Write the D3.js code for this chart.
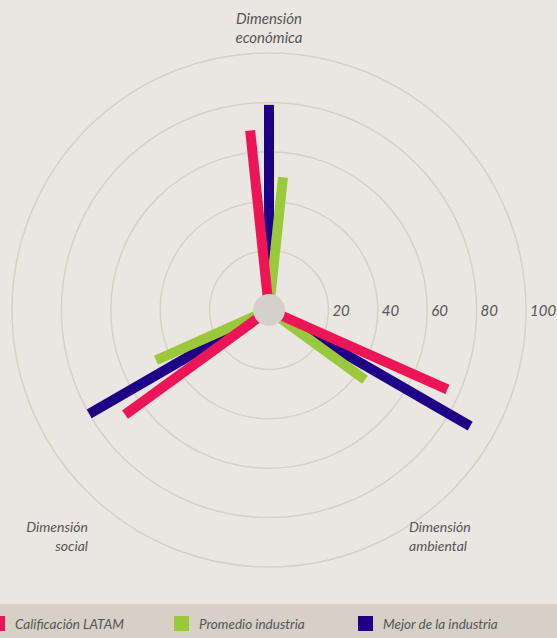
<!DOCTYPE html>
<html>
<head>
<meta charset="utf-8">
<script src="https://cdn.jsdelivr.net/npm/d3@7"></script>
<style>
  html, body { margin: 0; padding: 0; background: #eae7e2; }
  svg { display: block; }
  text { font-family: Lato, "Open Sans", sans-serif; font-style: italic; fill: #555; }
</style>
</head>
<body>
<div id="plot"></div>
<script>
// chart data
const categories = ["Dimensión económica", "Dimensión ambiental", "Dimensión social"];
const categoryLines = [["Dimensión", "económica"], ["Dimensión", "ambiental"], ["Dimensión", "social"]];
const seriesNames = ["Calificación LATAM", "Promedio industria", "Mejor de la industria"];
const latam = [69, 75, 68];
const promedio = [50, 44, 46];
const mejor = [79, 90, 80];
const tickValues = [20, 40, 60, 80, 100];

const width = 557, height = 638;
const cx = 269, cy = 310;
const colors = ["#ee1556", "#9aca3c", "#1e0087"];

const svg = d3.select("#plot")
  .append("svg")
  .attr("width", width)
  .attr("height", height);

svg.append("rect")
  .attr("width", width)
  .attr("height", height)
  .attr("fill", "#eae7e2");

const r = d3.scaleLinear().domain([0, 100]).range([10, 257]);

// angle of each dimension (clockwise from top), offset per series
// pink leans left, best-of-industry sits on the axis, average leans right
const angle = d3.scaleBand().domain(categories).range([0, 360]);
const offset = d3.scalePoint()
  .domain([seriesNames[0], seriesNames[2], seriesNames[1]])
  .range([-6, 6]);

const g = svg.append("g").attr("transform", `translate(${cx},${cy})`);

// grid circles
g.selectAll(".grid")
  .data(tickValues)
  .enter().append("circle")
  .attr("class", "grid")
  .attr("r", d => r(d))
  .attr("fill", "none")
  .attr("stroke", "#d7d0c4")
  .attr("stroke-width", 1.5);

// tick labels
g.selectAll(".tick")
  .data(tickValues)
  .enter().append("text")
  .attr("class", "tick")
  .attr("x", d => r(d) + 4)
  .attr("y", 6)
  .style("font-size", "15px")
  .text(d => d);

// bars: draw blue first, then green, then pink on top
const allValues = [latam, promedio, mejor];
const bars = [];
[2, 1, 0].forEach(si => {
  categories.forEach((c, ci) => {
    bars.push({ series: seriesNames[si], color: colors[si], cat: c, value: allValues[si][ci] });
  });
});

const barW = 10;
g.selectAll(".bar")
  .data(bars)
  .enter().append("rect")
  .attr("class", "bar")
  .attr("x", -barW / 2)
  .attr("y", d => -r(d.value))
  .attr("width", barW)
  .attr("height", d => r(d.value))
  .attr("fill", d => d.color)
  .attr("transform", d => `rotate(${angle(d.cat) + offset(d.series)})`);

// center hole
g.append("circle")
  .attr("r", 16)
  .attr("fill", "#d6d1c8");

// dimension labels
const labelLayout = [
  { x: 0, y: -286, anchor: "middle", size: 15 },
  { x: 140, y: 222, anchor: "start", size: 14 },
  { x: -181, y: 222, anchor: "end", size: 14 }
];
categories.forEach((c, i) => {
  const t = g.append("text")
    .attr("x", labelLayout[i].x)
    .attr("y", labelLayout[i].y)
    .attr("text-anchor", labelLayout[i].anchor)
    .style("font-size", labelLayout[i].size + "px");
  categoryLines[i].forEach((line, j) => {
    t.append("tspan")
      .attr("x", labelLayout[i].x)
      .attr("dy", j === 0 ? 0 : 19)
      .text(line);
  });
});

// legend band
svg.append("rect")
  .attr("x", 0)
  .attr("y", 604)
  .attr("width", width)
  .attr("height", height - 604)
  .attr("fill", "#d6d0c6");

const legendX = d3.scaleBand().domain(seriesNames).range([-10, 542]);
const legend = svg.selectAll(".legend")
  .data(seriesNames)
  .enter().append("g")
  .attr("class", "legend")
  .attr("transform", d => `translate(${legendX(d)},616)`);

legend.append("rect")
  .attr("width", 15)
  .attr("height", 15)
  .attr("fill", (d, i) => colors[i]);

legend.append("text")
  .attr("x", 25)
  .attr("y", 13)
  .style("font-size", "13.5px")
  .text(d => d);
</script>
</body>
</html>
